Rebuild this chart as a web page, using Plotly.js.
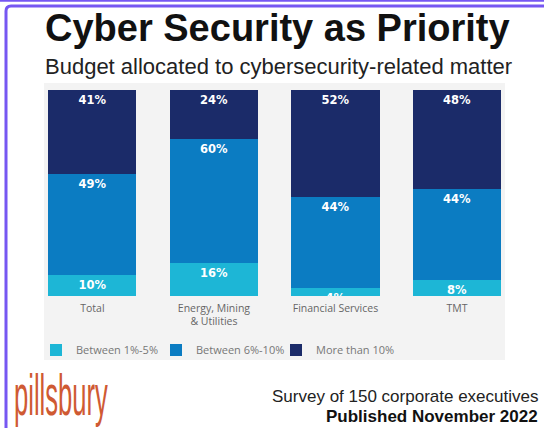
<!DOCTYPE html>
<html>
<head>
<meta charset="utf-8">
<script src="https://cdn.plot.ly/plotly-3.0.1.min.js"></script>
<style>
  html, body { margin: 0; padding: 0; background: #ffffff; }
  #chart { width: 544px; height: 428px; }
</style>
</head>
<body>
<div id="chart"></div>
<script>
// ---- data ----
const categories = ['Total', 'Energy, Mining<br>& Utilities', 'Financial Services', 'TMT'];
const seriesNames = ['Between 1%-5%', 'Between 6%-10%', 'More than 10%'];
const low = [10, 16, 4, 8];
const mid = [49, 60, 44, 44];
const high = [41, 24, 52, 48];
const seriesValues = [low, mid, high];
const seriesColors = ['#1db6d6', '#0b7cc2', '#1b2b69'];

// ---- geometry helpers (pixel -> paper) ----
const W = 544, H = 428;
const M = { l: 45, r: 39, t: 90, b: 132 };
const PW = W - M.l - M.r, PH = H - M.t - M.b;
const px = x => (x - M.l) / PW;
const py = y => (H - M.b - y) / PH;

const traces = seriesValues.map((vals, i) => ({
  type: 'bar',
  name: seriesNames[i],
  x: categories,
  y: vals,
  width: 0.725,
  marker: { color: seriesColors[i], line: { width: 0 } },
  text: vals.map(v => v + '%'),
  textposition: 'inside',
  insidetextanchor: 'end',
  constraintext: 'none',
  textangle: 0,
  textfont: { family: 'DejaVu Sans', size: 11.5, color: '#ffffff', weight: 'bold' },
  hoverinfo: 'skip'
}));

const purple = '#7657f2';

const layout = {
  width: W, height: H,
  margin: M,
  paper_bgcolor: '#ffffff',
  plot_bgcolor: '#f3f3f3',
  barmode: 'stack',
  showlegend: true,
  legend: {
    orientation: 'h', traceorder: 'normal',
    x: px(36), xanchor: 'left',
    y: py(350), yanchor: 'middle',
    bgcolor: 'rgba(0,0,0,0)',
    entrywidth: 75, entrywidthmode: 'pixels',
    font: { family: 'Open Sans', size: 11, color: '#777777' },
    itemclick: false
  },
  xaxis: {
    type: 'category',
    range: [-0.39, 3.395],
    showgrid: false, zeroline: false, showline: false,
    ticks: '',
    ticklabelstandoff: 4,
    tickfont: { family: 'Open Sans', size: 10.5, color: '#666666' },
    fixedrange: true
  },
  yaxis: {
    range: [0, 100],
    visible: false,
    fixedrange: true
  },
  shapes: [
    { type: 'rect', xref: 'paper', yref: 'paper', layer: 'below',
      x0: px(44), x1: px(505), y0: py(360), y1: py(83),
      fillcolor: '#f3f3f3', line: { width: 0 } },
    { type: 'line', xref: 'paper', yref: 'paper',
      x0: px(0), x1: px(544), y0: py(0.8), y1: py(0.8),
      line: { color: purple, width: 2 } },
    { type: 'path', xref: 'paper', yref: 'paper',
      path: `M ${px(6)},${py(432)} L ${px(6)},${py(11)} Q ${px(6)},${py(6)} ${px(11)},${py(6)} L ${px(548)},${py(6)}`,
      line: { color: purple, width: 3 } }
  ],
  annotations: [
    { xref: 'paper', yref: 'paper', x: px(277.5), y: py(28), xanchor: 'center', yanchor: 'middle',
      text: '<b>Cyber Security as Priority</b>', showarrow: false,
      font: { family: 'Liberation Sans', size: 38, color: '#111111' } },
    { xref: 'paper', yref: 'paper', x: px(278), y: py(66), xanchor: 'center', yanchor: 'middle',
      text: 'Budget allocated to cybersecurity-related matter', showarrow: false,
      font: { family: 'Liberation Sans', size: 22, color: '#222222' } },
    { xref: 'paper', yref: 'paper', x: px(540), y: py(396), xanchor: 'right', yanchor: 'middle',
      text: 'Survey of 150 corporate executives', showarrow: false,
      font: { family: 'Liberation Sans', size: 17, color: '#222222' } },
    { xref: 'paper', yref: 'paper', x: px(540), y: py(416), xanchor: 'right', yanchor: 'middle',
      text: '<b>Published November 2022</b>', showarrow: false,
      font: { family: 'Liberation Sans', size: 17, color: '#111111' } },
    { xref: 'paper', yref: 'paper', x: px(12), y: py(395), xanchor: 'left', yanchor: 'middle',
      text: 'pillsbury', showarrow: false,
      font: { family: 'Liberation Sans', size: 32, color: '#cf5a33' } }
  ]
};

Plotly.newPlot('chart', traces, layout, { staticPlot: true, displayModeBar: false }).then(gd => {
  // squeeze/stretch the logo wordmark to mimic its tall condensed face
  const texts = gd.querySelectorAll('.annotation-text-g text');
  texts.forEach(t => {
    if (t.textContent === 'pillsbury') {
      t.style.transformBox = 'fill-box';
      t.style.transformOrigin = '0% 50%';
      t.style.transform = 'scale(0.8, 1.8)';
    }
  });
});
</script>
</body>
</html>
